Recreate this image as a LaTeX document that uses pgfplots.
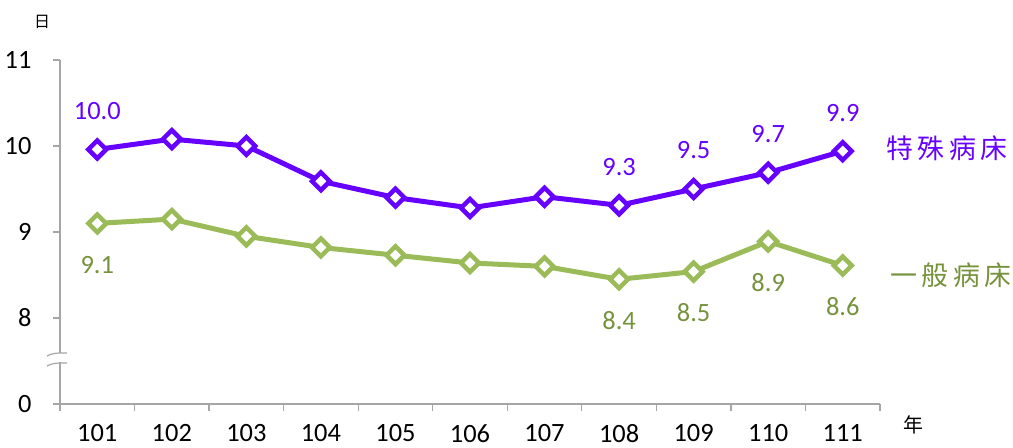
\documentclass[border=0pt]{standalone}
\usepackage{pgfplots}
\pgfplotsset{compat=1.18}
\usepackage{fontspec}
\setmainfont{Carlito}
\newfontfamily\cjk{Noto Sans CJK TC}
\definecolor{pur}{RGB}{102,0,255}
\definecolor{grn}{RGB}{155,187,89}
\definecolor{grnd}{RGB}{118,146,60}
\definecolor{axg}{RGB}{166,166,166}
\begin{document}
\begin{tikzpicture}
\useasboundingbox (-60bp,-44bp) rectangle (953bp,404bp);
\begin{axis}[
  scale only axis, width=820bp, height=344bp,
  at={(0,0)}, anchor=south west,
  xmin=-0.5, xmax=10.5, ymin=7, ymax=11,
  axis lines*=left,
  axis line style={axg, line width=1.2bp},
  every tick/.style={axg, line width=1.2bp},
  tick align=outside,
  xtick={0,...,10},
  xticklabels={101,102,103,104,105,106,107,108,109,110,111},
  major x tick style={draw=none},
  minor xtick={-0.5,0.5,...,10.5},
  minor tick length=7bp,
  ytick={7,8,9,10,11},
  yticklabels={0,8,9,10,11},
  major tick length=7bp,
  /pgf/number format/assume math mode=true,
  tick label style={font=\fontsize{26.5}{30}\selectfont, black},
  xticklabel style={yshift=-10bp},
  yticklabel style={xshift=-18bp},
  clip=false,
]
\addplot[pur, line width=5bp, mark=square*, mark size=6.3bp,
  mark options={rotate=45, fill=white, draw=pur, line width=4.5bp}]
  coordinates {(0,9.96) (1,10.08) (2,10.0) (3,9.59) (4,9.40) (5,9.28) (6,9.41) (7,9.31) (8,9.50) (9,9.69) (10,9.94)};
\addplot[grn, line width=5bp, mark=square*, mark size=6.3bp,
  mark options={rotate=45, fill=white, draw=grn, line width=4.5bp}]
  coordinates {(0,9.10) (1,9.15) (2,8.95) (3,8.82) (4,8.73) (5,8.64) (6,8.60) (7,8.45) (8,8.54) (9,8.89) (10,8.61)};
% data labels
\addplot[draw=none, mark=none, nodes near coords, point meta=explicit symbolic,
  every node near coord/.append style={anchor=center, yshift=38.5bp, text=pur, font=\fontsize{26.5}{30}\selectfont}]
  coordinates {(0,9.96)[10.0] (7,9.31)[9.3] (8,9.50)[9.5] (9,9.69)[9.7] (10,9.94)[9.9]};
\addplot[draw=none, mark=none, nodes near coords, point meta=explicit symbolic,
  every node near coord/.append style={anchor=center, yshift=-41.5bp, text=grnd, font=\fontsize{26.5}{30}\selectfont}]
  coordinates {(0,9.10)[9.1] (7,8.45)[8.4] (8,8.54)[8.5] (9,8.89)[8.9] (10,8.61)[8.6]};
\end{axis}
% axis break
\fill[white] (-4bp,41.5bp) rectangle (4bp,50.5bp);
\draw[axg, line width=1.2bp] (-13bp,48bp) .. controls (-6bp,51.5bp) and (-2bp,51bp) .. (7bp,51bp);
\draw[axg, line width=1.2bp] (-13bp,38bp) .. controls (-6bp,41.5bp) and (-2bp,41bp) .. (7bp,41bp);
% labels
\node[font=\cjk\fontsize{16}{18}\selectfont] at (-18bp,382bp) {日};
\node[font=\cjk\fontsize{20}{22}\selectfont] at (853bp,-21bp) {年};
\node[anchor=west, text=pur, font=\cjk\fontsize{27}{30}\selectfont] at (823bp,256bp) {特\,殊\,病\,床};
\node[anchor=west, text=grnd, font=\cjk\fontsize{27}{30}\selectfont] at (827bp,129bp) {一\,般\,病\,床};
\end{tikzpicture}
\end{document}
